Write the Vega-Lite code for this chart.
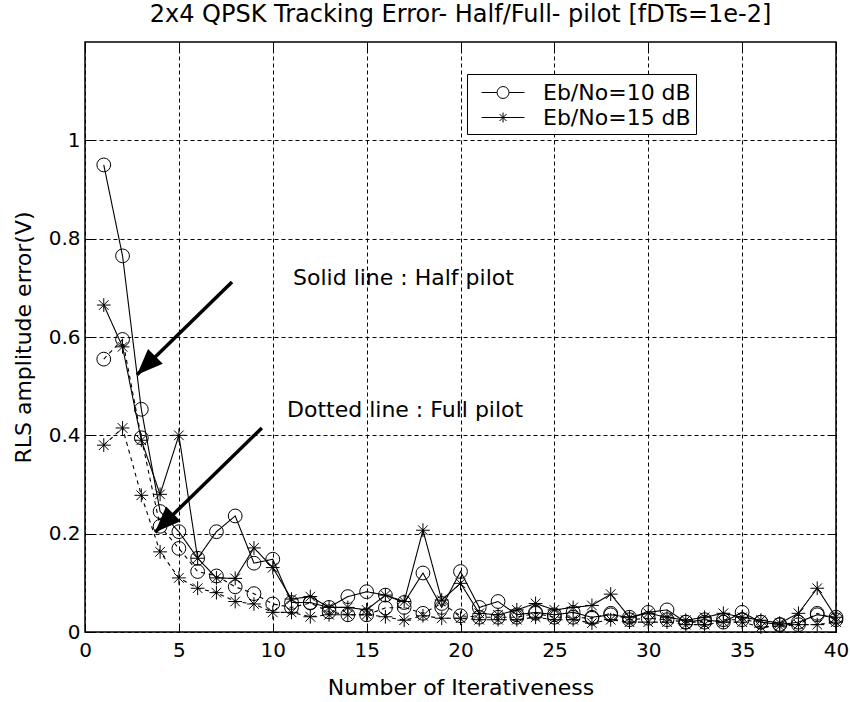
{
  "$schema": "https://vega.github.io/schema/vega-lite/v6.json",
  "width": 751,
  "height": 590,
  "autosize": {"type": "none"},
  "padding": {"left": 85, "top": 42, "right": 14, "bottom": 70},
  "background": "white",
  "config": {"view": {"stroke": "black", "strokeWidth": 1.5}, "font": "DejaVu Sans"},
  "title": {"text": "2x4 QPSK Tracking Error- Half/Full- pilot [fDTs=1e-2]", "fontSize": 24, "font": "DejaVu Sans", "fontWeight": "normal", "color": "black", "offset": 15},
  "datasets": {
    "main": [
      {"iter":1,"err":0.95,"snr":"Eb/No=10 dB","pilot":"Half"},{"iter":2,"err":0.765,"snr":"Eb/No=10 dB","pilot":"Half"},{"iter":3,"err":0.453,"snr":"Eb/No=10 dB","pilot":"Half"},{"iter":4,"err":0.245,"snr":"Eb/No=10 dB","pilot":"Half"},{"iter":5,"err":0.204,"snr":"Eb/No=10 dB","pilot":"Half"},{"iter":6,"err":0.15,"snr":"Eb/No=10 dB","pilot":"Half"},{"iter":7,"err":0.204,"snr":"Eb/No=10 dB","pilot":"Half"},{"iter":8,"err":0.236,"snr":"Eb/No=10 dB","pilot":"Half"},{"iter":9,"err":0.14,"snr":"Eb/No=10 dB","pilot":"Half"},{"iter":10,"err":0.148,"snr":"Eb/No=10 dB","pilot":"Half"},
      {"iter":11,"err":0.06,"snr":"Eb/No=10 dB","pilot":"Half"},{"iter":12,"err":0.06,"snr":"Eb/No=10 dB","pilot":"Half"},{"iter":13,"err":0.05,"snr":"Eb/No=10 dB","pilot":"Half"},{"iter":14,"err":0.072,"snr":"Eb/No=10 dB","pilot":"Half"},{"iter":15,"err":0.082,"snr":"Eb/No=10 dB","pilot":"Half"},{"iter":16,"err":0.075,"snr":"Eb/No=10 dB","pilot":"Half"},{"iter":17,"err":0.06,"snr":"Eb/No=10 dB","pilot":"Half"},{"iter":18,"err":0.12,"snr":"Eb/No=10 dB","pilot":"Half"},{"iter":19,"err":0.05,"snr":"Eb/No=10 dB","pilot":"Half"},{"iter":20,"err":0.123,"snr":"Eb/No=10 dB","pilot":"Half"},
      {"iter":21,"err":0.05,"snr":"Eb/No=10 dB","pilot":"Half"},{"iter":22,"err":0.062,"snr":"Eb/No=10 dB","pilot":"Half"},{"iter":23,"err":0.035,"snr":"Eb/No=10 dB","pilot":"Half"},{"iter":24,"err":0.04,"snr":"Eb/No=10 dB","pilot":"Half"},{"iter":25,"err":0.035,"snr":"Eb/No=10 dB","pilot":"Half"},{"iter":26,"err":0.04,"snr":"Eb/No=10 dB","pilot":"Half"},{"iter":27,"err":0.03,"snr":"Eb/No=10 dB","pilot":"Half"},{"iter":28,"err":0.035,"snr":"Eb/No=10 dB","pilot":"Half"},{"iter":29,"err":0.03,"snr":"Eb/No=10 dB","pilot":"Half"},{"iter":30,"err":0.04,"snr":"Eb/No=10 dB","pilot":"Half"},
      {"iter":31,"err":0.045,"snr":"Eb/No=10 dB","pilot":"Half"},{"iter":32,"err":0.02,"snr":"Eb/No=10 dB","pilot":"Half"},{"iter":33,"err":0.025,"snr":"Eb/No=10 dB","pilot":"Half"},{"iter":34,"err":0.02,"snr":"Eb/No=10 dB","pilot":"Half"},{"iter":35,"err":0.04,"snr":"Eb/No=10 dB","pilot":"Half"},{"iter":36,"err":0.02,"snr":"Eb/No=10 dB","pilot":"Half"},{"iter":37,"err":0.015,"snr":"Eb/No=10 dB","pilot":"Half"},{"iter":38,"err":0.02,"snr":"Eb/No=10 dB","pilot":"Half"},{"iter":39,"err":0.035,"snr":"Eb/No=10 dB","pilot":"Half"},{"iter":40,"err":0.03,"snr":"Eb/No=10 dB","pilot":"Half"},

      {"iter":1,"err":0.665,"snr":"Eb/No=15 dB","pilot":"Half"},{"iter":2,"err":0.58,"snr":"Eb/No=15 dB","pilot":"Half"},{"iter":3,"err":0.39,"snr":"Eb/No=15 dB","pilot":"Half"},{"iter":4,"err":0.28,"snr":"Eb/No=15 dB","pilot":"Half"},{"iter":5,"err":0.4,"snr":"Eb/No=15 dB","pilot":"Half"},{"iter":6,"err":0.15,"snr":"Eb/No=15 dB","pilot":"Half"},{"iter":7,"err":0.11,"snr":"Eb/No=15 dB","pilot":"Half"},{"iter":8,"err":0.109,"snr":"Eb/No=15 dB","pilot":"Half"},{"iter":9,"err":0.171,"snr":"Eb/No=15 dB","pilot":"Half"},{"iter":10,"err":0.131,"snr":"Eb/No=15 dB","pilot":"Half"},
      {"iter":11,"err":0.067,"snr":"Eb/No=15 dB","pilot":"Half"},{"iter":12,"err":0.072,"snr":"Eb/No=15 dB","pilot":"Half"},{"iter":13,"err":0.05,"snr":"Eb/No=15 dB","pilot":"Half"},{"iter":14,"err":0.05,"snr":"Eb/No=15 dB","pilot":"Half"},{"iter":15,"err":0.045,"snr":"Eb/No=15 dB","pilot":"Half"},{"iter":16,"err":0.075,"snr":"Eb/No=15 dB","pilot":"Half"},{"iter":17,"err":0.062,"snr":"Eb/No=15 dB","pilot":"Half"},{"iter":18,"err":0.207,"snr":"Eb/No=15 dB","pilot":"Half"},{"iter":19,"err":0.065,"snr":"Eb/No=15 dB","pilot":"Half"},{"iter":20,"err":0.099,"snr":"Eb/No=15 dB","pilot":"Half"},
      {"iter":21,"err":0.038,"snr":"Eb/No=15 dB","pilot":"Half"},{"iter":22,"err":0.035,"snr":"Eb/No=15 dB","pilot":"Half"},{"iter":23,"err":0.045,"snr":"Eb/No=15 dB","pilot":"Half"},{"iter":24,"err":0.058,"snr":"Eb/No=15 dB","pilot":"Half"},{"iter":25,"err":0.045,"snr":"Eb/No=15 dB","pilot":"Half"},{"iter":26,"err":0.05,"snr":"Eb/No=15 dB","pilot":"Half"},{"iter":27,"err":0.054,"snr":"Eb/No=15 dB","pilot":"Half"},{"iter":28,"err":0.077,"snr":"Eb/No=15 dB","pilot":"Half"},{"iter":29,"err":0.03,"snr":"Eb/No=15 dB","pilot":"Half"},{"iter":30,"err":0.038,"snr":"Eb/No=15 dB","pilot":"Half"},
      {"iter":31,"err":0.03,"snr":"Eb/No=15 dB","pilot":"Half"},{"iter":32,"err":0.024,"snr":"Eb/No=15 dB","pilot":"Half"},{"iter":33,"err":0.03,"snr":"Eb/No=15 dB","pilot":"Half"},{"iter":34,"err":0.038,"snr":"Eb/No=15 dB","pilot":"Half"},{"iter":35,"err":0.03,"snr":"Eb/No=15 dB","pilot":"Half"},{"iter":36,"err":0.024,"snr":"Eb/No=15 dB","pilot":"Half"},{"iter":37,"err":0.018,"snr":"Eb/No=15 dB","pilot":"Half"},{"iter":38,"err":0.038,"snr":"Eb/No=15 dB","pilot":"Half"},{"iter":39,"err":0.089,"snr":"Eb/No=15 dB","pilot":"Half"},{"iter":40,"err":0.03,"snr":"Eb/No=15 dB","pilot":"Half"},

      {"iter":1,"err":0.555,"snr":"Eb/No=10 dB","pilot":"Full"},{"iter":2,"err":0.595,"snr":"Eb/No=10 dB","pilot":"Full"},{"iter":3,"err":0.395,"snr":"Eb/No=10 dB","pilot":"Full"},{"iter":4,"err":0.215,"snr":"Eb/No=10 dB","pilot":"Full"},{"iter":5,"err":0.17,"snr":"Eb/No=10 dB","pilot":"Full"},{"iter":6,"err":0.123,"snr":"Eb/No=10 dB","pilot":"Full"},{"iter":7,"err":0.114,"snr":"Eb/No=10 dB","pilot":"Full"},{"iter":8,"err":0.092,"snr":"Eb/No=10 dB","pilot":"Full"},{"iter":9,"err":0.078,"snr":"Eb/No=10 dB","pilot":"Full"},{"iter":10,"err":0.057,"snr":"Eb/No=10 dB","pilot":"Full"},
      {"iter":11,"err":0.05,"snr":"Eb/No=10 dB","pilot":"Full"},{"iter":12,"err":0.059,"snr":"Eb/No=10 dB","pilot":"Full"},{"iter":13,"err":0.041,"snr":"Eb/No=10 dB","pilot":"Full"},{"iter":14,"err":0.035,"snr":"Eb/No=10 dB","pilot":"Full"},{"iter":15,"err":0.035,"snr":"Eb/No=10 dB","pilot":"Full"},{"iter":16,"err":0.049,"snr":"Eb/No=10 dB","pilot":"Full"},{"iter":17,"err":0.05,"snr":"Eb/No=10 dB","pilot":"Full"},{"iter":18,"err":0.038,"snr":"Eb/No=10 dB","pilot":"Full"},{"iter":19,"err":0.058,"snr":"Eb/No=10 dB","pilot":"Full"},{"iter":20,"err":0.033,"snr":"Eb/No=10 dB","pilot":"Full"},
      {"iter":21,"err":0.03,"snr":"Eb/No=10 dB","pilot":"Full"},{"iter":22,"err":0.03,"snr":"Eb/No=10 dB","pilot":"Full"},{"iter":23,"err":0.03,"snr":"Eb/No=10 dB","pilot":"Full"},{"iter":24,"err":0.038,"snr":"Eb/No=10 dB","pilot":"Full"},{"iter":25,"err":0.03,"snr":"Eb/No=10 dB","pilot":"Full"},{"iter":26,"err":0.03,"snr":"Eb/No=10 dB","pilot":"Full"},{"iter":27,"err":0.028,"snr":"Eb/No=10 dB","pilot":"Full"},{"iter":28,"err":0.038,"snr":"Eb/No=10 dB","pilot":"Full"},{"iter":29,"err":0.025,"snr":"Eb/No=10 dB","pilot":"Full"},{"iter":30,"err":0.028,"snr":"Eb/No=10 dB","pilot":"Full"},
      {"iter":31,"err":0.025,"snr":"Eb/No=10 dB","pilot":"Full"},{"iter":32,"err":0.02,"snr":"Eb/No=10 dB","pilot":"Full"},{"iter":33,"err":0.02,"snr":"Eb/No=10 dB","pilot":"Full"},{"iter":34,"err":0.025,"snr":"Eb/No=10 dB","pilot":"Full"},{"iter":35,"err":0.025,"snr":"Eb/No=10 dB","pilot":"Full"},{"iter":36,"err":0.02,"snr":"Eb/No=10 dB","pilot":"Full"},{"iter":37,"err":0.015,"snr":"Eb/No=10 dB","pilot":"Full"},{"iter":38,"err":0.015,"snr":"Eb/No=10 dB","pilot":"Full"},{"iter":39,"err":0.038,"snr":"Eb/No=10 dB","pilot":"Full"},{"iter":40,"err":0.025,"snr":"Eb/No=10 dB","pilot":"Full"},

      {"iter":1,"err":0.38,"snr":"Eb/No=15 dB","pilot":"Full"},{"iter":2,"err":0.415,"snr":"Eb/No=15 dB","pilot":"Full"},{"iter":3,"err":0.278,"snr":"Eb/No=15 dB","pilot":"Full"},{"iter":4,"err":0.163,"snr":"Eb/No=15 dB","pilot":"Full"},{"iter":5,"err":0.11,"snr":"Eb/No=15 dB","pilot":"Full"},{"iter":6,"err":0.089,"snr":"Eb/No=15 dB","pilot":"Full"},{"iter":7,"err":0.08,"snr":"Eb/No=15 dB","pilot":"Full"},{"iter":8,"err":0.062,"snr":"Eb/No=15 dB","pilot":"Full"},{"iter":9,"err":0.057,"snr":"Eb/No=15 dB","pilot":"Full"},{"iter":10,"err":0.04,"snr":"Eb/No=15 dB","pilot":"Full"},
      {"iter":11,"err":0.04,"snr":"Eb/No=15 dB","pilot":"Full"},{"iter":12,"err":0.031,"snr":"Eb/No=15 dB","pilot":"Full"},{"iter":13,"err":0.035,"snr":"Eb/No=15 dB","pilot":"Full"},{"iter":14,"err":0.035,"snr":"Eb/No=15 dB","pilot":"Full"},{"iter":15,"err":0.035,"snr":"Eb/No=15 dB","pilot":"Full"},{"iter":16,"err":0.031,"snr":"Eb/No=15 dB","pilot":"Full"},{"iter":17,"err":0.024,"snr":"Eb/No=15 dB","pilot":"Full"},{"iter":18,"err":0.033,"snr":"Eb/No=15 dB","pilot":"Full"},{"iter":19,"err":0.028,"snr":"Eb/No=15 dB","pilot":"Full"},{"iter":20,"err":0.028,"snr":"Eb/No=15 dB","pilot":"Full"},
      {"iter":21,"err":0.025,"snr":"Eb/No=15 dB","pilot":"Full"},{"iter":22,"err":0.025,"snr":"Eb/No=15 dB","pilot":"Full"},{"iter":23,"err":0.025,"snr":"Eb/No=15 dB","pilot":"Full"},{"iter":24,"err":0.03,"snr":"Eb/No=15 dB","pilot":"Full"},{"iter":25,"err":0.025,"snr":"Eb/No=15 dB","pilot":"Full"},{"iter":26,"err":0.025,"snr":"Eb/No=15 dB","pilot":"Full"},{"iter":27,"err":0.018,"snr":"Eb/No=15 dB","pilot":"Full"},{"iter":28,"err":0.025,"snr":"Eb/No=15 dB","pilot":"Full"},{"iter":29,"err":0.02,"snr":"Eb/No=15 dB","pilot":"Full"},{"iter":30,"err":0.02,"snr":"Eb/No=15 dB","pilot":"Full"},
      {"iter":31,"err":0.02,"snr":"Eb/No=15 dB","pilot":"Full"},{"iter":32,"err":0.015,"snr":"Eb/No=15 dB","pilot":"Full"},{"iter":33,"err":0.015,"snr":"Eb/No=15 dB","pilot":"Full"},{"iter":34,"err":0.02,"snr":"Eb/No=15 dB","pilot":"Full"},{"iter":35,"err":0.02,"snr":"Eb/No=15 dB","pilot":"Full"},{"iter":36,"err":0.01,"snr":"Eb/No=15 dB","pilot":"Full"},{"iter":37,"err":0.012,"snr":"Eb/No=15 dB","pilot":"Full"},{"iter":38,"err":0.015,"snr":"Eb/No=15 dB","pilot":"Full"},{"iter":39,"err":0.015,"snr":"Eb/No=15 dB","pilot":"Full"},{"iter":40,"err":0.02,"snr":"Eb/No=15 dB","pilot":"Full"}
    ],
    "arrows": [
      {"tailX": 7.83, "tailY": 0.712, "tipX": 2.77, "tipY": 0.523},
      {"tailX": 9.42, "tailY": 0.415, "tipX": 3.73, "tipY": 0.203}
    ],
    "notes": [
      {"x": 11.08, "y": 0.72, "label": "Solid line : Half pilot"},
      {"x": 10.76, "y": 0.451, "label": "Dotted line : Full pilot"}
    ]
  },
  "layer": [
    {
      "data": {"name": "main"},
      "mark": {"type": "line", "color": "black", "strokeWidth": 1.1},
      "encoding": {
        "x": {"field": "iter", "type": "quantitative", "scale": {"domain": [0, 40], "nice": false, "zero": false},
          "axis": {"orient": "bottom", "values": [0,5,10,15,20,25,30,35,40], "title": "Number of Iterativeness", "grid": true, "gridDash": [4,3], "gridColor": "black", "gridOpacity": 1, "gridWidth": 1, "domain": false, "tickSize": -8, "tickColor": "black", "tickWidth": 1, "labelFontSize": 20, "labelFont": "DejaVu Sans", "labelColor": "black", "labelPadding": 16, "labelFlush": false, "titleFont": "DejaVu Sans", "titleFontSize": 22, "titleFontWeight": "normal", "titleColor": "black", "titlePadding": 17}},
        "y": {"field": "err", "type": "quantitative", "scale": {"domain": [0, 1.2], "nice": false, "zero": false},
          "axis": {"orient": "left", "values": [0,0.2,0.4,0.6,0.8,1], "format": "~g", "title": "RLS amplitude error(V)", "grid": true, "gridDash": [4,3], "gridColor": "black", "gridOpacity": 1, "gridWidth": 1, "domain": false, "tickSize": -8, "tickColor": "black", "tickWidth": 1, "labelFontSize": 20, "labelFont": "DejaVu Sans", "labelColor": "black", "labelPadding": 13, "labelFlush": false, "titleFont": "DejaVu Sans", "titleFontSize": 22, "titleFontWeight": "normal", "titleColor": "black", "titlePadding": 13}},
        "strokeDash": {"field": "pilot", "type": "nominal", "scale": {"domain": ["Half", "Full"], "range": [[1, 0], [4, 4]]}, "legend": null},
        "detail": {"field": "snr"}
      }
    },
    {
      "data": {"name": "main"},
      "mark": {"type": "point", "filled": false, "color": "black", "strokeWidth": 1, "size": 190, "opacity": 1},
      "encoding": {
        "x": {"field": "iter", "type": "quantitative", "scale": {"domain": [0, 40], "nice": false, "zero": false}, "axis": null},
        "y": {"field": "err", "type": "quantitative", "scale": {"domain": [0, 1.2], "nice": false, "zero": false}, "axis": null},
        "shape": {"field": "snr", "type": "nominal",
          "scale": {"domain": ["Eb/No=10 dB", "Eb/No=15 dB"], "range": ["circle", "M0,-1V1M-1,0H1M-0.7,-0.7L0.7,0.7M-0.7,0.7L0.7,-0.7"]},
          "legend": null}
      }
    },
    {
      "data": {"name": "main"},
      "mark": {"type": "point", "filled": false, "color": "black", "strokeWidth": 1, "size": 676, "opacity": 0},
      "encoding": {
        "x": {"field": "iter", "type": "quantitative", "scale": {"domain": [0, 40], "nice": false, "zero": false}, "axis": null},
        "y": {"field": "err", "type": "quantitative", "scale": {"domain": [0, 1.2], "nice": false, "zero": false}, "axis": null},
        "shape": {"field": "snr", "type": "nominal",
          "scale": {"domain": ["Eb/No=10 dB", "Eb/No=15 dB"], "range": ["M-0.3,0H0.89M1.81,0H3M1.81,0A0.46,0.46,0,1,1,0.89,0A0.46,0.46,0,1,1,1.81,0", "M-0.3,0H3M1.35,-0.38V0.38M0.97,0H1.73M1.08,-0.27L1.62,0.27M1.08,0.27L1.62,-0.27"]},
          "legend": {"orient": "none", "legendX": 382, "legendY": 32, "title": null, "strokeColor": "black", "fillColor": "white", "padding": 5, "labelFontSize": 22, "labelFont": "DejaVu Sans", "labelColor": "black", "symbolSize": 676, "symbolOpacity": 1, "labelOffset": 44, "rowPadding": 0, "symbolStrokeWidth": 1, "symbolStrokeColor": "black", "symbolFillColor": "transparent"}}
      }
    },
    {
      "data": {"name": "arrows"},
      "mark": {"type": "rule", "color": "black", "strokeWidth": 3.5},
      "encoding": {
        "x": {"field": "tailX", "type": "quantitative", "scale": {"domain": [0, 40], "nice": false, "zero": false},
          "axis": {"orient": "top", "values": [0,5,10,15,20,25,30,35,40], "labels": false, "title": null, "grid": false, "domain": false, "tickSize": -8, "tickColor": "black", "tickWidth": 1}},
        "y": {"field": "tailY", "type": "quantitative", "scale": {"domain": [0, 1.2], "nice": false, "zero": false},
          "axis": {"orient": "right", "values": [0,0.2,0.4,0.6,0.8,1], "labels": false, "title": null, "grid": false, "domain": false, "tickSize": -8, "tickColor": "black", "tickWidth": 1}},
        "x2": {"field": "tipX"},
        "y2": {"field": "tipY"}
      }
    },
    {
      "data": {"name": "arrows"},
      "mark": {"type": "point", "shape": "M0,0L0.8,2L-0.8,2Z", "filled": true, "color": "black", "opacity": 1, "size": 676, "angle": 225, "strokeWidth": 0},
      "encoding": {
        "x": {"field": "tipX", "type": "quantitative", "scale": {"domain": [0, 40], "nice": false, "zero": false}, "axis": null},
        "y": {"field": "tipY", "type": "quantitative", "scale": {"domain": [0, 1.2], "nice": false, "zero": false}, "axis": null}
      }
    },
    {
      "data": {"name": "notes"},
      "mark": {"type": "text", "align": "left", "baseline": "middle", "font": "DejaVu Sans", "fontSize": 22, "color": "black"},
      "encoding": {
        "x": {"field": "x", "type": "quantitative", "scale": {"domain": [0, 40], "nice": false, "zero": false}, "axis": null},
        "y": {"field": "y", "type": "quantitative", "scale": {"domain": [0, 1.2], "nice": false, "zero": false}, "axis": null},
        "text": {"field": "label"}
      }
    }
  ],
  "resolve": {"axis": {"x": "independent", "y": "independent"}, "scale": {"shape": "independent"}}
}
